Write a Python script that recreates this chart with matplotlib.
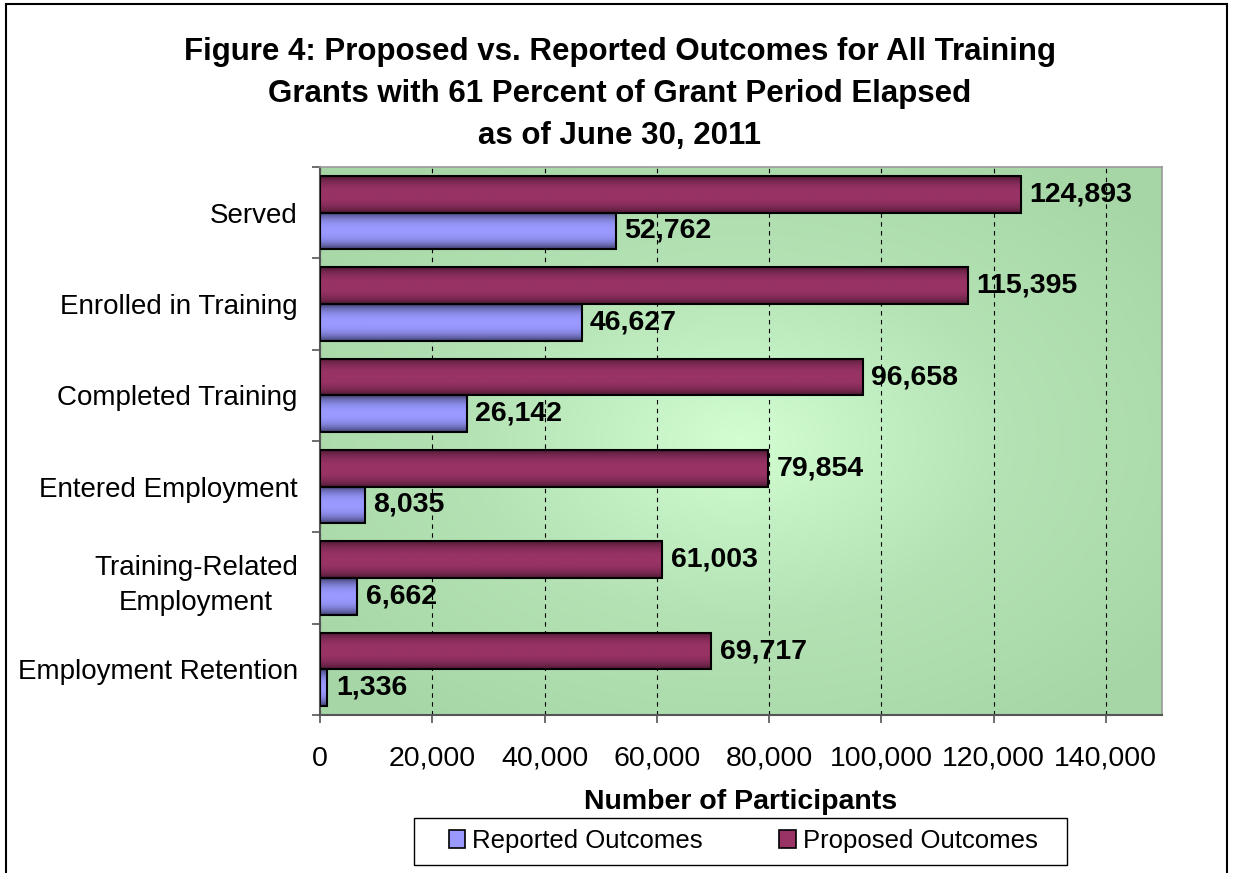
import matplotlib
matplotlib.use("Agg")
import matplotlib.pyplot as plt
import numpy as np
from matplotlib.colors import LinearSegmentedColormap
from matplotlib.patches import Rectangle

plt.rcParams['font.family'] = ['Liberation Sans', 'DejaVu Sans']

# data
categories = ["Served", "Enrolled in Training", "Completed Training",
              "Entered Employment", "Training-Related\nEmployment",
              "Employment Retention"]
proposed = [124893, 115395, 96658, 79854, 61003, 69717]
reported = [52762, 46627, 26142, 8035, 6662, 1336]
xticks = [0, 20000, 40000, 60000, 80000, 100000, 120000, 140000]

title_lines = ["Figure 4: Proposed vs. Reported Outcomes for All Training",
               "Grants with 61 Percent of Grant Period Elapsed",
               "as of June 30, 2011"]

fig = plt.figure(figsize=(12.33, 8.73), dpi=100)
ax = fig.add_axes([320/1233, 1-715/873, 842/1233, 548/873])

# background gradient (light centre, darker edges)
yy, xx = np.mgrid[-1:1:200j, -1:1:300j]
r = np.clip(np.sqrt(xx**2 + yy**2) / 1.3, 0, 1)
bg_cmap = LinearSegmentedColormap.from_list("bg", ["#d2fed2", "#b4e2b4", "#a6d6a6"])
ax.imshow(r, cmap=bg_cmap, extent=[0, 1, 0, 1], transform=ax.transAxes,
          aspect='auto', zorder=0, vmin=0, vmax=1)

y = np.arange(len(categories))
h = 0.4
bars_p = ax.barh(y - h/2, proposed, height=h, facecolor='none',
                 edgecolor='black', linewidth=1.5, zorder=3)
bars_r = ax.barh(y + h/2, reported, height=h, facecolor='none',
                 edgecolor='black', linewidth=1.5, zorder=3)

# shading across bar thickness: dark edges, lighter middle
t = np.linspace(0, 1, 80)
prof = 1 - np.abs(2*t - 1)**2.5
cm_p = LinearSegmentedColormap.from_list("p", ["#4e1a34", "#993366"])
cm_r = LinearSegmentedColormap.from_list("r", ["#40406e", "#9999ff"])

def shade(bars, cmap):
    for b in bars:
        x0, y0 = b.get_x(), b.get_y()
        ax.imshow(prof[:, None], cmap=cmap, vmin=0, vmax=1, aspect='auto',
                  extent=[x0, x0 + b.get_width(), y0, y0 + b.get_height()],
                  zorder=2, interpolation='bilinear')

shade(bars_p, cm_p)
shade(bars_r, cm_r)

for b in list(bars_p) + list(bars_r):
    w = b.get_width()
    ax.annotate(f"{int(w):,}", (w, b.get_y() + b.get_height()/2),
                xytext=(6, 0), textcoords='offset points', va='center',
                ha='left', fontsize=20.5, fontweight='bold', zorder=4)

ax.set_xlim(0, 150000)
ax.set_ylim(len(categories) - 0.5, -0.5)
ax.set_xticks(xticks)
ax.set_xticklabels([f"{v:,}" for v in xticks], fontsize=20.5)
ax.set_yticks(y)
ax.set_yticklabels(categories, fontsize=20, linespacing=1.45,
                   multialignment='center')
ax.set_yticks(np.arange(len(categories) + 1) - 0.5, minor=True)
ax.tick_params(axis='y', which='major', length=0, pad=16)
ax.tick_params(axis='y', which='minor', length=6, color='#555555', width=1.2)
ax.tick_params(axis='x', which='major', length=6, color='#555555', width=1.2, pad=16)

ax.grid(axis='x', color='black', linestyle=(0, (4, 4)), linewidth=0.8, zorder=1)
ax.set_axisbelow(True)
for s in ['top', 'right']:
    ax.spines[s].set_color('#999999')
    ax.spines[s].set_linewidth(1.2)
for s in ['left', 'bottom']:
    ax.spines[s].set_color('#555555')
    ax.spines[s].set_linewidth(1.5)

for i, line in enumerate(title_lines):
    fig.text(620/1233, 1 - (52 + i*42)/873, line, ha='center', va='center',
             fontsize=22.5, fontweight='bold')

fig.text(741/1233, 1 - 802/873, "Number of Participants", ha='center',
         va='center', fontsize=20.5, fontweight='bold')

# legend (frame drawn separately for the wider box)
handles = [Rectangle((0, 0), 1, 1, facecolor='#9999ff', edgecolor='black', linewidth=1.2),
           Rectangle((0, 0), 1, 1, facecolor='#993366', edgecolor='black', linewidth=1.2)]
fig.legend(handles, ["Reported Outcomes", "Proposed Outcomes"], ncol=2,
           loc='center', bbox_to_anchor=(743/1233, 1 - 841/873),
           fontsize=18.5, frameon=False,
           handlelength=0.65, handleheight=0.65, handletextpad=0.25,
           columnspacing=3.0, borderpad=0, borderaxespad=0)
fig.patches.append(Rectangle((414/1233, 1 - 865/873), 653/1233, 47/873,
                             transform=fig.transFigure, fill=False,
                             edgecolor='black', linewidth=1.0))

fig.patches.append(Rectangle((6/1233, -0.01), 1221/1233, 1 - 4/873 + 0.01,
                             transform=fig.transFigure, fill=False,
                             edgecolor='black', linewidth=1.5))

fig.savefig("out.png", dpi=100)
